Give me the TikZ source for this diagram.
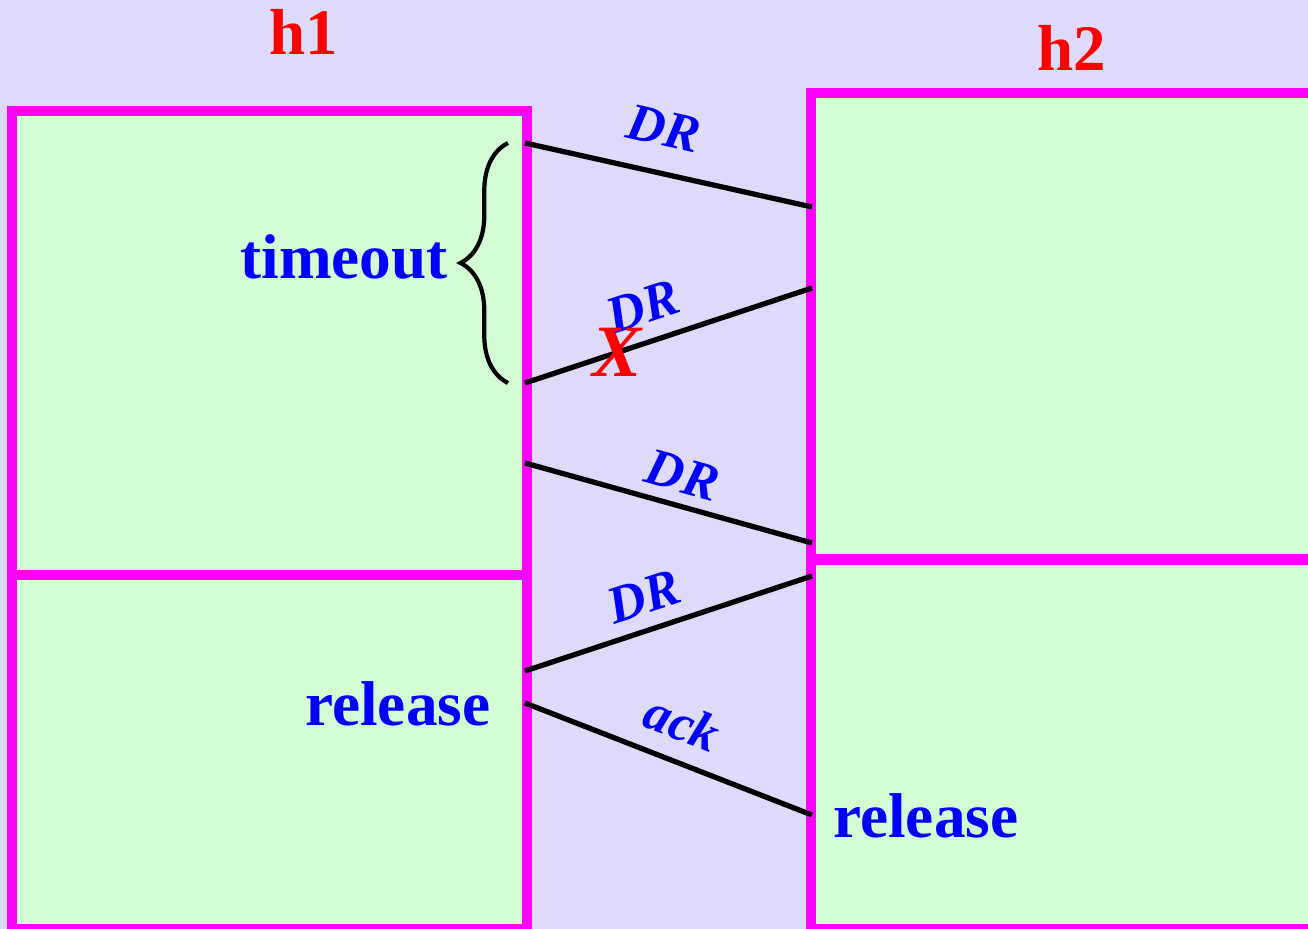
\documentclass[tikz,border=0pt]{standalone}
\usepackage{fontspec}
\setmainfont{Liberation Serif}
\usetikzlibrary{decorations.pathreplacing}
\definecolor{bglilac}{RGB}{222,218,250}
\definecolor{boxgreen}{RGB}{212,252,212}
\definecolor{hotpink}{RGB}{255,0,255}
\tikzset{
  host/.style={text=red,inner sep=0pt,font=\fontsize{37}{40}\selectfont\bfseries},
  event/.style={text=blue,inner sep=0pt,font=\fontsize{36}{40}\selectfont\bfseries},
  msg/.style={text=blue,inner sep=3pt,sloped,font=\fontsize{30}{34}\selectfont\bfseries\itshape},
  frame/.style={draw=hotpink,line width=6.2pt,fill=boxgreen},
  wire/.style={line width=3pt},
}
\begin{document}
\begin{tikzpicture}[x=0.02cm,y=-0.02cm]
    \useasboundingbox (0,0) rectangle (1308,929);
    \fill[bglilac] (0,0) rectangle (1308,929);% background
    % host h1: two phases
    \filldraw[frame] (12,111) rectangle (527,929);
    \draw[frame] (12,575) -- (527,575);
    % host h2: two phases
    \filldraw[frame] (811,93) rectangle (1330,929);
    \draw[frame] (811,559.5) -- (1330,559.5);
    \node[host,anchor=base] (h1) at (304,55) {h1};
    \node[host,anchor=base] (h2) at (1072,71) {h2};
    % end points on the two time lines
    \coordinate (a1) at (525,143);
    \coordinate (b1) at (812,207);
    \coordinate (a2) at (525,383);
    \coordinate (b2) at (812,288);
    \coordinate (a3) at (525,463);
    \coordinate (b3) at (812,543);
    \coordinate (a4) at (525,671);
    \coordinate (b4) at (812,576);
    \coordinate (a5) at (525,703);
    \coordinate (b5) at (812,815);
    % messages
    \draw[wire] (a1) -- (b1) node[msg,pos=0.45,above=11pt] (dr1) {DR};
    \draw[wire] (a2) -- (b2) node[msg,pos=0.45,above=6pt] (dr2) {DR}
        node[pos=0.32,text=red,inner sep=0pt,font=\fontsize{42}{44}\selectfont\bfseries\itshape] (lost) {X};
    \draw[wire] (a3) -- (b3) node[msg,pos=0.52,above=3pt] (dr3) {DR};
    \draw[wire] (b4) -- (a4) node[msg,pos=0.55,above=4.6pt] (dr4) {DR};
    \draw[wire] (a5) -- (b5) node[msg,pos=0.5,above=7pt] (ack) {ack};
    % timer
    \draw[line width=2.4pt,decorate,decoration={brace,amplitude=27pt}] (508,383) -- (508,143);
    \node[event,anchor=base east] (timeout) at (448,278) {timeout};
    \node[event,anchor=base west] (rel1) at (305,725) {release};
    \node[event,anchor=base west] (rel2) at (833,837) {release};
\end{tikzpicture}
\end{document}
